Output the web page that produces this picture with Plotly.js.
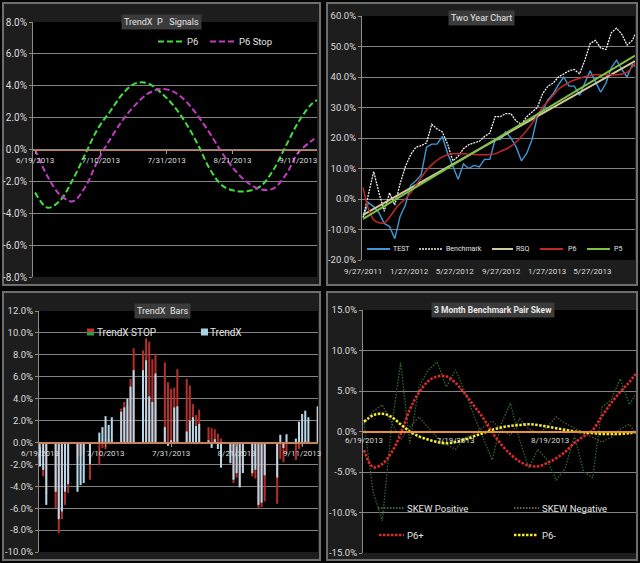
<!DOCTYPE html>
<html><head><meta charset="utf-8">
<script src="https://cdn.plot.ly/plotly-3.0.1.min.js"></script>
<style>html,body{margin:0;padding:0;background:#050505;}#chart{width:640px;height:563px;}</style>
</head><body><div id="chart"></div>
<script>
// ---------- Panel 1: TrendX P Signals ----------
const sigDates = ['2013-06-19','2013-06-23','2013-06-27','2013-07-01','2013-07-05','2013-07-09','2013-07-13','2013-07-17','2013-07-21','2013-07-25','2013-07-29','2013-08-02','2013-08-06','2013-08-10','2013-08-14','2013-08-18','2013-08-22','2013-08-26','2013-08-30','2013-09-03','2013-09-07','2013-09-11','2013-09-15','2013-09-17'];
const sigP6 = [-2.7,-3.65,-3.2,-1.9,-0.3,1.3,2.4,3.5,4.15,4.15,3.6,2.8,1.7,0.3,-1.3,-2.3,-2.6,-2.6,-2.3,-1.3,0.2,1.7,2.8,3.1];
const sigP6Stop = [0,-1.7,-2.85,-3.25,-2.35,-0.7,0.65,1.85,2.8,3.5,3.8,3.65,3.05,2.1,0.95,-0.3,-1.35,-2.1,-2.5,-2.45,-1.6,-0.2,0.5,0.8];
const sigYTickVals = [-8,-6,-4,-2,0,2,4,6,8];
const sigYTickText = ['-8.0%','-6.0%','-4.0%','-2.0%','0.0%','2.0%','4.0%','6.0%','8.0%'];

// ---------- Panel 2: Two Year Chart ----------
const twoDates = ['2011-09-27','2011-10-11','2011-10-25','2011-11-08','2011-11-22','2011-12-06','2011-12-20','2012-01-03','2012-01-17','2012-01-31','2012-02-14','2012-02-28','2012-03-13','2012-03-27','2012-04-10','2012-04-24','2012-05-08','2012-05-22','2012-06-05','2012-06-19','2012-07-03','2012-07-17','2012-07-31','2012-08-14','2012-08-28','2012-09-11','2012-09-25','2012-10-09','2012-10-23','2012-11-06','2012-11-20','2012-12-04','2012-12-18','2013-01-01','2013-01-15','2013-01-29','2013-02-12','2013-02-26','2013-03-12','2013-03-26','2013-04-09','2013-04-23','2013-05-07','2013-05-21','2013-06-04','2013-06-18','2013-07-02','2013-07-16','2013-07-30','2013-08-13','2013-08-27','2013-09-10','2013-09-17'];
const twoTest = [-6,-1.2,-2.5,-4.5,-8,-9,-13,-5.7,-2,4.5,6,8,17,18,18,20.5,15,10.5,6.5,11.5,10,11,10.5,13,13,19.5,19.5,22,20,17,12.5,15,19.5,27,29,32.5,34.5,37.5,40,37,37,34,38,42,38.5,35,38,43,45.5,42.5,40,44,43.5];
const twoBench = [-6,1,9,2,-4,2,-2,5,10.6,14.5,17,17.5,18.4,24.5,23,22,18,12.5,14,16.5,17.8,18.4,18.9,20.5,21.6,27,27,28,28,25.5,24.5,27,28.5,30,34.5,37,38,40,41,42,42.5,41,45.5,51,52,49.5,49,54.5,56,54,50.5,52,54];
const twoP6 = [3.7,-3.3,-6.8,-7.8,-7.8,-6.0,-3.5,-1.5,0,2,4.5,7,9.4,11.2,12.7,13.8,14.5,14.8,14.8,14.8,14.7,14.6,14.5,14.5,14.6,14.8,15.6,16.3,17.3,18.7,20.5,22.5,24.8,27.5,30,32,34,36,37.2,38.2,39,39.6,40.1,40.4,40.7,40.7,40.7,40.7,40.7,41,41.5,43.3,44.5];
const twoRSQ = [-5.2,45.2];
const twoP5 = [-6.5,47];
const twoYTickVals = [-20,-10,0,10,20,30,40,50,60];
const twoYTickText = ['-20.0%','-10.0%','0.0%','10.0%','20.0%','30.0%','40.0%','50.0%','60.0%'];

// ---------- Panel 3: TrendX Bars ----------
const barDates = ['2013-06-19','2013-06-20','2013-06-21','2013-06-24','2013-06-25','2013-06-26','2013-06-27','2013-06-28',
 '2013-07-01','2013-07-02','2013-07-03','2013-07-05','2013-07-08','2013-07-09','2013-07-10','2013-07-11','2013-07-12','2013-07-15','2013-07-16','2013-07-17','2013-07-18','2013-07-19','2013-07-22','2013-07-23','2013-07-24','2013-07-25','2013-07-26','2013-07-29','2013-07-30','2013-07-31',
 '2013-08-01','2013-08-02','2013-08-05','2013-08-06','2013-08-07','2013-08-08','2013-08-09','2013-08-12','2013-08-13','2013-08-14','2013-08-15','2013-08-16','2013-08-19','2013-08-20','2013-08-21','2013-08-22','2013-08-23','2013-08-26','2013-08-27','2013-08-28','2013-08-29','2013-08-30',
 '2013-09-03','2013-09-04','2013-09-05','2013-09-06','2013-09-09','2013-09-10','2013-09-11','2013-09-12','2013-09-13','2013-09-16'];
const barTrendX = [-2.2,-2.5,-5.7,-4.5,-7.0,-6.3,-4.5,-3.8,
 -4.5,-3.9,-3.7,-2.0,0.9,1.4,2.4,1.6,2.3,2.8,3.2,4.0,5.1,6.6,6.6,7.5,4.2,3.7,6.3,1.4,-0.3,0.2,
 3.2,3.3,1.0,2.0,2.3,1.5,1.7,0.2,-0.5,0.3,-0.6,-2.3,-1.9,-3.4,-2.8,-4.1,-2.8,-2.8,-2.5,-5.7,-5.5,-3.0,
 -3.2,0.7,-0.5,0.75,0.35,1.9,2.6,2.9,2.3,3.3];
const barStop = [-2.0,-3.1,-4.7,-6.0,-8.3,-7.0,-5.7,-4.6,
 -1.5,-1.2,-1.0,-3.4,-2.1,-0.5,-0.6,0.3,0.2,3.1,3.7,3.4,5.8,8.6,8.4,9.5,9.2,7.6,8.1,7.3,5.5,4.9,
 5.0,6.7,5.8,5.2,3.5,2.5,3.0,1.4,1.3,1.2,0.8,0.35,-1.0,-3.7,-3.2,-4.0,-2.3,-3.1,-3.3,-6.0,-5.9,-5.4,
 -5.6,-1.5,-1.8,-1.0,-1.6,-0.6,-0.3,0.2,0.1,3.2];
const barYTickVals = [-10,-8,-6,-4,-2,0,2,4,6,8,10,12];
const barYTickText = ['-10.0%','-8.0%','-6.0%','-4.0%','-2.0%','0.0%','2.0%','4.0%','6.0%','8.0%','10.0%','12.0%'];

// ---------- Panel 4: 3 Month Benchmark Pair Skew ----------
const skewDates = ['2013-06-19','2013-06-22','2013-06-25','2013-06-28','2013-07-01','2013-07-04','2013-07-07','2013-07-10','2013-07-13','2013-07-16','2013-07-19','2013-07-22','2013-07-25','2013-07-28','2013-07-31','2013-08-03','2013-08-06','2013-08-09','2013-08-12','2013-08-15','2013-08-18','2013-08-21','2013-08-24','2013-08-27','2013-08-30','2013-09-02','2013-09-05','2013-09-08','2013-09-11','2013-09-14','2013-09-16'];
const skewPos = [1.0,-7.5,-11,0.5,8.5,-1.5,5.5,7.6,8.6,5.5,7.6,5.0,2.0,-0.8,-3.5,1.0,3.5,-1.0,-4.5,-2.2,-3.5,-6.0,-4.5,-0.5,-5.0,-5.7,3.0,3.9,6.5,3.3,4.6];
const skewNeg = [1.0,2.5,3.3,1.2,-1.0,0.5,1.8,0.5,-0.7,-1.6,-2.2,-0.8,-0.3,0.5,1.3,0.3,-0.5,1.6,0.3,-0.2,0.5,1.8,1.0,0.4,-0.2,-0.8,-1.3,-0.7,0.3,0.9,-0.2];
const skewP6Plus = [-2.3,-4.4,-4.0,-2.6,-0.3,2.7,4.8,6.2,6.8,6.8,6.0,4.7,3.2,1.7,-0.1,-1.6,-2.8,-3.7,-4.2,-4.3,-3.9,-3.3,-2.5,-1.4,-0.6,0.2,1.9,3.5,4.9,6.1,7.1];
const skewP6Minus = [1.2,2.0,2.2,1.8,0.9,0.0,-0.6,-1.0,-1.3,-1.45,-1.3,-1.0,-0.6,-0.2,0.2,0.5,0.7,0.8,0.9,0.8,0.6,0.4,0.2,0.0,-0.1,-0.2,-0.3,-0.3,-0.3,-0.2,-0.1];
const skewYTickVals = [-15,-10,-5,0,5,10,15];
const skewYTickText = ['-15.0%','-10.0%','-5.0%','0.0%','5.0%','10.0%','15.0%'];

// ---------- layout helpers ----------
const W = 640, H = 563;
const px = x => x / W;
const py = y => 1 - y / H;
const TXT = '#dcdcdc', GRID = '#828282';
const DAY = 86400000;

function yDom(top, bottom){ return [py(bottom), py(top)]; }
function zeroPos(dom, r){ return dom[0] + (0 - r[0]) / (r[1] - r[0]) * (dom[1] - dom[0]); }

const d1 = yDom(22, 277), r1 = [-8, 8];
const d2 = yDom(16, 260), r2 = [-20, 60];
const d3 = yDom(311, 552), r3 = [-10, 12];
const d4 = yDom(310, 553), r4 = [-15, 15];

function yAxis(dom, r, vals, text, anchor, size){
  return {domain: dom, range: r, anchor: anchor, tickvals: vals, ticktext: text,
    showgrid: true, gridcolor: GRID, gridwidth: 1, zeroline: false,
    showline: true, linecolor: '#8c8c8c', linewidth: 1,
    ticks: 'outside', ticklen: 3, tickcolor: '#8c8c8c',
    tickfont: {size: size, color: TXT}, fixedrange: true};
}

const traces = [
  {x: sigDates, y: sigP6, name: 'P6', type: 'scatter', mode: 'lines', xaxis: 'x', yaxis: 'y',
   line: {color: '#3fe03f', width: 2, dash: '6px,3px', shape: 'spline'}},
  {x: sigDates, y: sigP6Stop, name: 'P6 Stop', type: 'scatter', mode: 'lines', xaxis: 'x', yaxis: 'y',
   line: {color: '#c23cc2', width: 2, dash: '6px,3px', shape: 'spline'}},

  {x: twoDates, y: twoTest, name: 'TEST', type: 'scatter', mode: 'lines', xaxis: 'x2', yaxis: 'y2',
   line: {color: '#3d9ad6', width: 1.4}},
  {x: twoDates, y: twoBench, name: 'Benchmark', type: 'scatter', mode: 'lines', xaxis: 'x2', yaxis: 'y2',
   line: {color: '#f0f0f0', width: 1.3, dash: '2px,1px'}},
  {x: [twoDates[0], twoDates[twoDates.length-1]], y: twoRSQ, name: 'RSQ', type: 'scatter', mode: 'lines', xaxis: 'x2', yaxis: 'y2',
   line: {color: '#d2c99c', width: 2}},
  {x: twoDates, y: twoP6, name: 'P6', type: 'scatter', mode: 'lines', xaxis: 'x2', yaxis: 'y2',
   line: {color: '#c0282a', width: 1.5, shape: 'spline'}},
  {x: [twoDates[0], twoDates[twoDates.length-1]], y: twoP5, name: 'P5', type: 'scatter', mode: 'lines', xaxis: 'x2', yaxis: 'y2',
   line: {color: '#7cc243', width: 2}},

  {x: barDates, y: barStop, name: 'TrendX STOP', type: 'bar', xaxis: 'x3', yaxis: 'y3',
   marker: {color: '#b0302c'}},
  {x: barDates, y: barTrendX, name: 'TrendX', type: 'bar', xaxis: 'x3', yaxis: 'y3',
   marker: {color: '#b8d8e8'}},

  {x: skewDates, y: skewPos, name: 'SKEW Positive', type: 'scatter', mode: 'lines', xaxis: 'x4', yaxis: 'y4',
   line: {color: '#2f6a2f', width: 1.3, dash: '1.5px,1.5px'}},
  {x: skewDates, y: skewNeg, name: 'SKEW Negative', type: 'scatter', mode: 'lines', xaxis: 'x4', yaxis: 'y4',
   line: {color: '#55553f', width: 1.3, dash: '1.5px,1.5px'}},
  {x: skewDates, y: skewP6Plus, name: 'P6+', type: 'scatter', mode: 'lines', xaxis: 'x4', yaxis: 'y4',
   line: {color: '#e02a2a', width: 2.6, dash: '2.5px,1.5px', shape: 'spline'}},
  {x: skewDates, y: skewP6Minus, name: 'P6-', type: 'scatter', mode: 'lines', xaxis: 'x4', yaxis: 'y4',
   line: {color: '#f2ef2a', width: 2.6, dash: '2.5px,1.5px', shape: 'spline'}}
];

const shapes = [];
const annotations = [];
// panels
[[3,3,320,285],[327,3,637,285],[3,292,320,560],[327,292,637,560]].forEach(p => {
  shapes.push({type:'rect', xref:'paper', yref:'paper', x0:px(p[0]), x1:px(p[2]), y0:py(p[3]), y1:py(p[1]),
    fillcolor:'#1d1d1d', line:{color:'#6e6e6e', width:2}, layer:'below'});
});
// black plot areas
['', '2', '3', '4'].forEach(s => {
  shapes.push({type:'rect', xref:'x'+s+' domain', yref:'y'+s+' domain', x0:0, x1:1, y0:0, y1:1,
    fillcolor:'#000000', line:{width:0}, layer:'below'});
});
// titles
function title(cx, cy, text, size, bold){
  annotations.push({xref:'paper', yref:'paper', x:px(cx), y:py(cy), xanchor:'center', yanchor:'middle',
    text: bold ? '<b>'+text+'</b>' : text, showarrow:false, bgcolor:'#3b3b3b', borderpad:2,
    font:{size:size, color:'#e8e8e8'}});
}
title(161, 21.5, 'TrendX\u00a0\u00a0P\u00a0\u00a0\u00a0Signals', 9, false);
title(481, 17.5, 'Two Year Chart', 9, false);
title(162, 311, 'TrendX\u00a0\u00a0Bars', 9, false);
title(492.5, 310, '3 Month Benchmark Pair Skew', 8.5, true);

// legends
function keyLine(x0, x1, y, color, width, dash){
  shapes.push({type:'line', xref:'paper', yref:'paper', x0:px(x0), x1:px(x1), y0:py(y), y1:py(y),
    line:{color:color, width:width, dash:dash || 'solid'}, layer:'above'});
}
function keyRect(x0, x1, y0, y1, color){
  shapes.push({type:'rect', xref:'paper', yref:'paper', x0:px(x0), x1:px(x1), y0:py(y1), y1:py(y0),
    fillcolor:color, line:{width:0}, layer:'above'});
}
function keyText(x, y, text, size){
  annotations.push({xref:'paper', yref:'paper', x:px(x), y:py(y), xanchor:'left', yanchor:'middle',
    text:text, showarrow:false, font:{size:size, color:'#e4e4e4'}});
}
// panel 1 legend
keyLine(158, 184, 41.5, '#3fe03f', 2, '6px,3px'); keyText(185, 41.5, traces[0].name, 9.5);
keyLine(210, 236, 41.5, '#c23cc2', 2, '6px,3px'); keyText(237, 41.5, traces[1].name, 9.5);
// panel 2 legend
keyLine(367, 390, 249, '#3d9ad6', 2); keyText(391, 249, traces[2].name, 7);
keyLine(419, 443, 249, '#f0f0f0', 1.3, '2px,1px'); keyText(444, 249, traces[3].name, 7);
keyLine(492, 513, 249, '#d2c99c', 2); keyText(514, 249, traces[4].name, 7);
keyLine(540, 563, 249, '#c0282a', 2); keyText(566, 249, traces[5].name, 7);
keyLine(587, 610, 249, '#7cc243', 2); keyText(612, 249, traces[6].name, 7);
// panel 3 legend
keyRect(87, 94, 328.5, 332, '#c0302c'); keyRect(87, 94, 332, 335.5, '#2f9a4c');
keyText(95, 332, traces[7].name, 10);
keyRect(201, 208, 328.5, 335.5, '#a9d2e6'); keyText(208, 332, traces[8].name, 10);
// panel 4 legend
keyLine(378, 404, 508, '#2f6a2f', 2, '1.5px,1.5px'); keyText(405, 508, traces[9].name, 9.5);
keyLine(514, 539, 508, '#66664a', 2, '1.5px,1.5px'); keyText(540, 508, traces[10].name, 9.5);
keyLine(379, 404, 535, '#e02a2a', 2.6, '2.5px,1.5px'); keyText(405, 535, traces[11].name, 9.5);
keyLine(514, 538, 535, '#f2ef2a', 2.6, '2.5px,1.5px'); keyText(540, 535, traces[12].name, 9.5);

const xDateCommon = {type:'date', tickformat:'%-m/%-d/%Y', showgrid:false, zeroline:false, fixedrange:true,
  tickfont:{size:8, color:TXT}};

const layout = {
  width: W, height: H, margin: {l:0, r:0, t:0, b:0},
  paper_bgcolor: '#050505', plot_bgcolor: 'rgba(0,0,0,0)',
  font: {family: 'Roboto, "DejaVu Sans", sans-serif', color: TXT},
  showlegend: false, barmode: 'overlay', bargap: 0.35,
  xaxis: Object.assign({}, xDateCommon, {domain:[px(33), px(317)], anchor:'free', position: zeroPos(d1, r1),
    range:['2013-06-18 08:00','2013-09-17 00:00'], tick0:'2013-06-19', dtick: 21*DAY,
    showline:true, linecolor:'#c88058', linewidth:1.2, ticks:'outside', ticklen:3, tickcolor:'#999'}),
  yaxis: yAxis(d1, r1, sigYTickVals, sigYTickText, 'x', 10),
  xaxis2: Object.assign({}, xDateCommon, {domain:[px(362), px(635)], anchor:'y2',
    range:['2011-09-24','2013-09-17'], tick0:'2011-09-27', dtick:'M4', showline:false, ticks:'',
    ticklabelstandoff: 5}),
  yaxis2: yAxis(d2, r2, twoYTickVals, twoYTickText, 'x2', 9.5),
  xaxis3: Object.assign({}, xDateCommon, {domain:[px(39), px(318)], anchor:'free', position: zeroPos(d3, r3),
    range:['2013-06-18 16:00','2013-09-16 02:00'], tick0:'2013-06-19', dtick: 21*DAY,
    showline:true, linecolor:'#c88058', linewidth:1.2, ticks:'outside', ticklen:3, tickcolor:'#999'}),
  yaxis3: yAxis(d3, r3, barYTickVals, barYTickText, 'x3', 9.5),
  xaxis4: Object.assign({}, xDateCommon, {domain:[px(363), px(636)], anchor:'free', position: zeroPos(d4, r4),
    range:['2013-06-18 16:00','2013-09-16 04:00'], tick0:'2013-06-19', dtick:'M1',
    showline:true, linecolor:'#e8903c', linewidth:2.5, ticks:'', tickcolor:'#999'}),
  yaxis4: yAxis(d4, r4, skewYTickVals, skewYTickText, 'x4', 9.5),
  shapes: shapes,
  annotations: annotations
};

Plotly.newPlot('chart', traces, layout, {staticPlot: true, displayModeBar: false});
</script>
</body></html>
